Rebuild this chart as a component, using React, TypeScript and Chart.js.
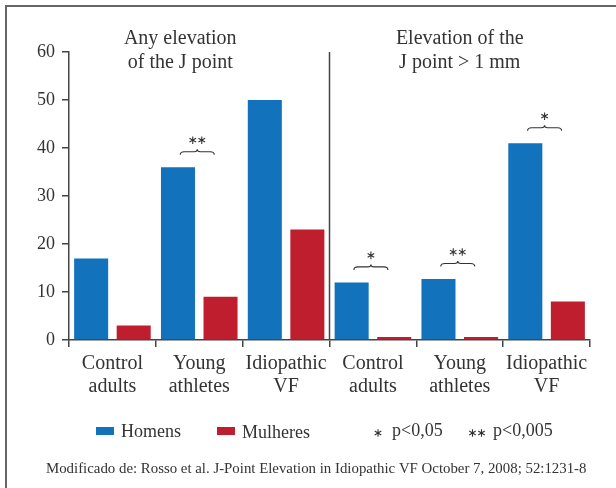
import { useEffect, useRef } from "react";
import { Chart, registerables } from "chart.js";

Chart.register(...registerables);

const categories = [
  ["Control", "adults"],
  ["Young", "athletes"],
  ["Idiopathic", "VF"],
  ["Control", "adults"],
  ["Young", "athletes"],
  ["Idiopathic", "VF"],
];
const seriesNames = ["Homens", "Mulheres"];
const homens = [17, 36, 50, 12, 12.7, 41];
const mulheres = [3, 9, 23, 0.6, 0.6, 8];
const yTicks = [0, 10, 20, 30, 40, 50, 60];
const panelTitles = [
  ["Any elevation", "of the J point"],
  ["Elevation of the", "J point > 1 mm"],
];
const significance = [
  { index: 1, stars: 2 },
  { index: 3, stars: 1 },
  { index: 4, stars: 2 },
  { index: 5, stars: 1 },
];
const pLegend = [
  { stars: 1, label: "p<0,05" },
  { stars: 2, label: "p<0,005" },
];
const footnote =
  "Modificado de: Rosso et al. J-Point Elevation in Idiopathic VF October 7, 2008; 52:1231-8";

const FONT = "'Liberation Serif', 'Times New Roman', serif";
const TEXT = "#333333";
const AXIS = "#444444";
const BLUE = "#1272BB";
const RED = "#BE1E2D";

function drawStar(ctx: CanvasRenderingContext2D, cx: number, cy: number, r: number) {
  ctx.beginPath();
  for (let k = 0; k < 3; k++) {
    const a = Math.PI / 2 + (k * Math.PI) / 3;
    ctx.moveTo(cx - r * Math.cos(a), cy - r * Math.sin(a));
    ctx.lineTo(cx + r * Math.cos(a), cy + r * Math.sin(a));
  }
  ctx.stroke();
}

function drawStars(ctx: CanvasRenderingContext2D, cx: number, cy: number, n: number) {
  const gap = 9;
  const start = cx - ((n - 1) * gap) / 2;
  for (let i = 0; i < n; i++) drawStar(ctx, start + i * gap, cy, 3.8);
}

function drawBrace(ctx: CanvasRenderingContext2D, x1: number, x2: number, yEnd: number) {
  const xc = (x1 + x2) / 2;
  const yLine = yEnd - 3;
  const yPeak = yEnd - 5.5;
  ctx.beginPath();
  ctx.moveTo(x1, yEnd);
  ctx.quadraticCurveTo(x1, yLine, x1 + 4, yLine);
  ctx.lineTo(xc - 3, yLine);
  ctx.quadraticCurveTo(xc, yLine, xc, yPeak);
  ctx.quadraticCurveTo(xc, yLine, xc + 3, yLine);
  ctx.lineTo(x2 - 4, yLine);
  ctx.quadraticCurveTo(x2, yLine, x2, yEnd);
  ctx.stroke();
}

const decorPlugin = {
  id: "decor",
  afterDraw(chart: any) {
    const ctx: CanvasRenderingContext2D = chart.ctx;
    const { left, right, top, bottom } = chart.chartArea;
    const xs = chart.scales.x;
    const ys = chart.scales.y;
    ctx.save();

    // frame
    ctx.strokeStyle = "#666";
    ctx.lineWidth = 2;
    ctx.strokeRect(6, 6, chart.width + 10, chart.height + 10);

    // divider
    const divX = (xs.getPixelForValue(2) + xs.getPixelForValue(3)) / 2;
    ctx.strokeStyle = AXIS;
    ctx.lineWidth = 1.5;
    ctx.beginPath();
    ctx.moveTo(divX, top);
    ctx.lineTo(divX, bottom);
    ctx.stroke();

    // panel titles
    ctx.fillStyle = TEXT;
    ctx.font = `20px ${FONT}`;
    ctx.textAlign = "center";
    ctx.textBaseline = "alphabetic";
    const centers = [(left + divX) / 2 - 19, (divX + right) / 2];
    panelTitles.forEach((lines, i) => {
      lines.forEach((line, j) => ctx.fillText(line, centers[i], 44 + j * 24));
    });

    // significance braces
    ctx.strokeStyle = TEXT;
    ctx.lineWidth = 1.1;
    significance.forEach((s) => {
      const cx = xs.getPixelForValue(s.index) - 2;
      const topY = ys.getPixelForValue(Math.max(homens[s.index], mulheres[s.index]));
      const yEnd = topY - 12.5;
      drawBrace(ctx, cx - 17, cx + 17, yEnd);
      drawStars(ctx, cx, yEnd - 14.5, s.stars);
    });

    // legend
    const legY = 431;
    ctx.textAlign = "left";
    ctx.font = `18px ${FONT}`;
    ctx.fillStyle = BLUE;
    ctx.fillRect(96, legY - 4, 18, 8);
    ctx.fillStyle = TEXT;
    ctx.fillText(seriesNames[0], 121, 437);
    ctx.fillStyle = RED;
    ctx.fillRect(217, legY - 4, 18, 8);
    ctx.fillStyle = TEXT;
    ctx.fillText(seriesNames[1], 242, 438);

    ctx.font = `18px ${FONT}`;
    const pPos = [
      { sx: 378, tx: 392 },
      { sx: 477, tx: 493 },
    ];
    pLegend.forEach((p, i) => {
      drawStars(ctx, pPos[i].sx, 433, p.stars);
      ctx.fillText(p.label, pPos[i].tx, 436);
    });

    // footnote
    ctx.font = `14.85px ${FONT}`;
    ctx.fillText(footnote, 46, 473);

    ctx.restore();
  },
};

export default function App() {
  const ref = useRef<HTMLCanvasElement | null>(null);
  useEffect(() => {
    if (!ref.current) return;
    const chart = new Chart(ref.current, {
      type: "bar",
      data: {
        labels: categories as any,
        datasets: [
          {
            label: seriesNames[0],
            data: homens,
            backgroundColor: BLUE,
            categoryPercentage: 0.98,
            barPercentage: 0.8,
          },
          {
            label: seriesNames[1],
            data: mulheres,
            backgroundColor: RED,
            categoryPercentage: 0.98,
            barPercentage: 0.8,
          },
        ],
      },
      options: {
        responsive: false,
        animation: false,
        devicePixelRatio: 1,
        layout: { padding: { left: 0, top: 52, right: 26, bottom: 0 } },
        plugins: {
          legend: { display: false },
          tooltip: { enabled: false },
        },
        scales: {
          x: {
            grid: {
              offset: true,
              drawOnChartArea: false,
              drawTicks: true,
              tickLength: 7,
              color: AXIS,
              lineWidth: 1.5,
            },
            border: { display: true, color: AXIS, width: 1.5 },
            ticks: {
              color: TEXT,
              font: { family: FONT, size: 20, lineHeight: 1.15 },
              padding: 5,
              maxRotation: 0,
              autoSkip: false,
            },
            afterFit: (scale: any) => {
              scale.height = 148;
            },
          },
          y: {
            min: yTicks[0],
            max: yTicks[yTicks.length - 1],
            afterBuildTicks: (scale: any) => {
              scale.ticks = yTicks.map((v) => ({ value: v }));
            },
            grid: {
              drawOnChartArea: false,
              drawTicks: true,
              tickLength: 7,
              color: AXIS,
              lineWidth: 1.5,
            },
            border: { display: true, color: AXIS, width: 1.5 },
            ticks: {
              color: TEXT,
              font: { family: FONT, size: 18 },
              padding: 7,
            },
            afterFit: (scale: any) => {
              scale.width = 69;
            },
          },
        },
      },
      plugins: [decorPlugin],
    });
    return () => chart.destroy();
  }, []);
  return (
    <div style={{ position: "fixed", left: 0, top: 0, width: 616, height: 488, background: "#fff" }}>
      <canvas ref={ref} width={616} height={488} style={{ display: "block" }} />
    </div>
  );
}
